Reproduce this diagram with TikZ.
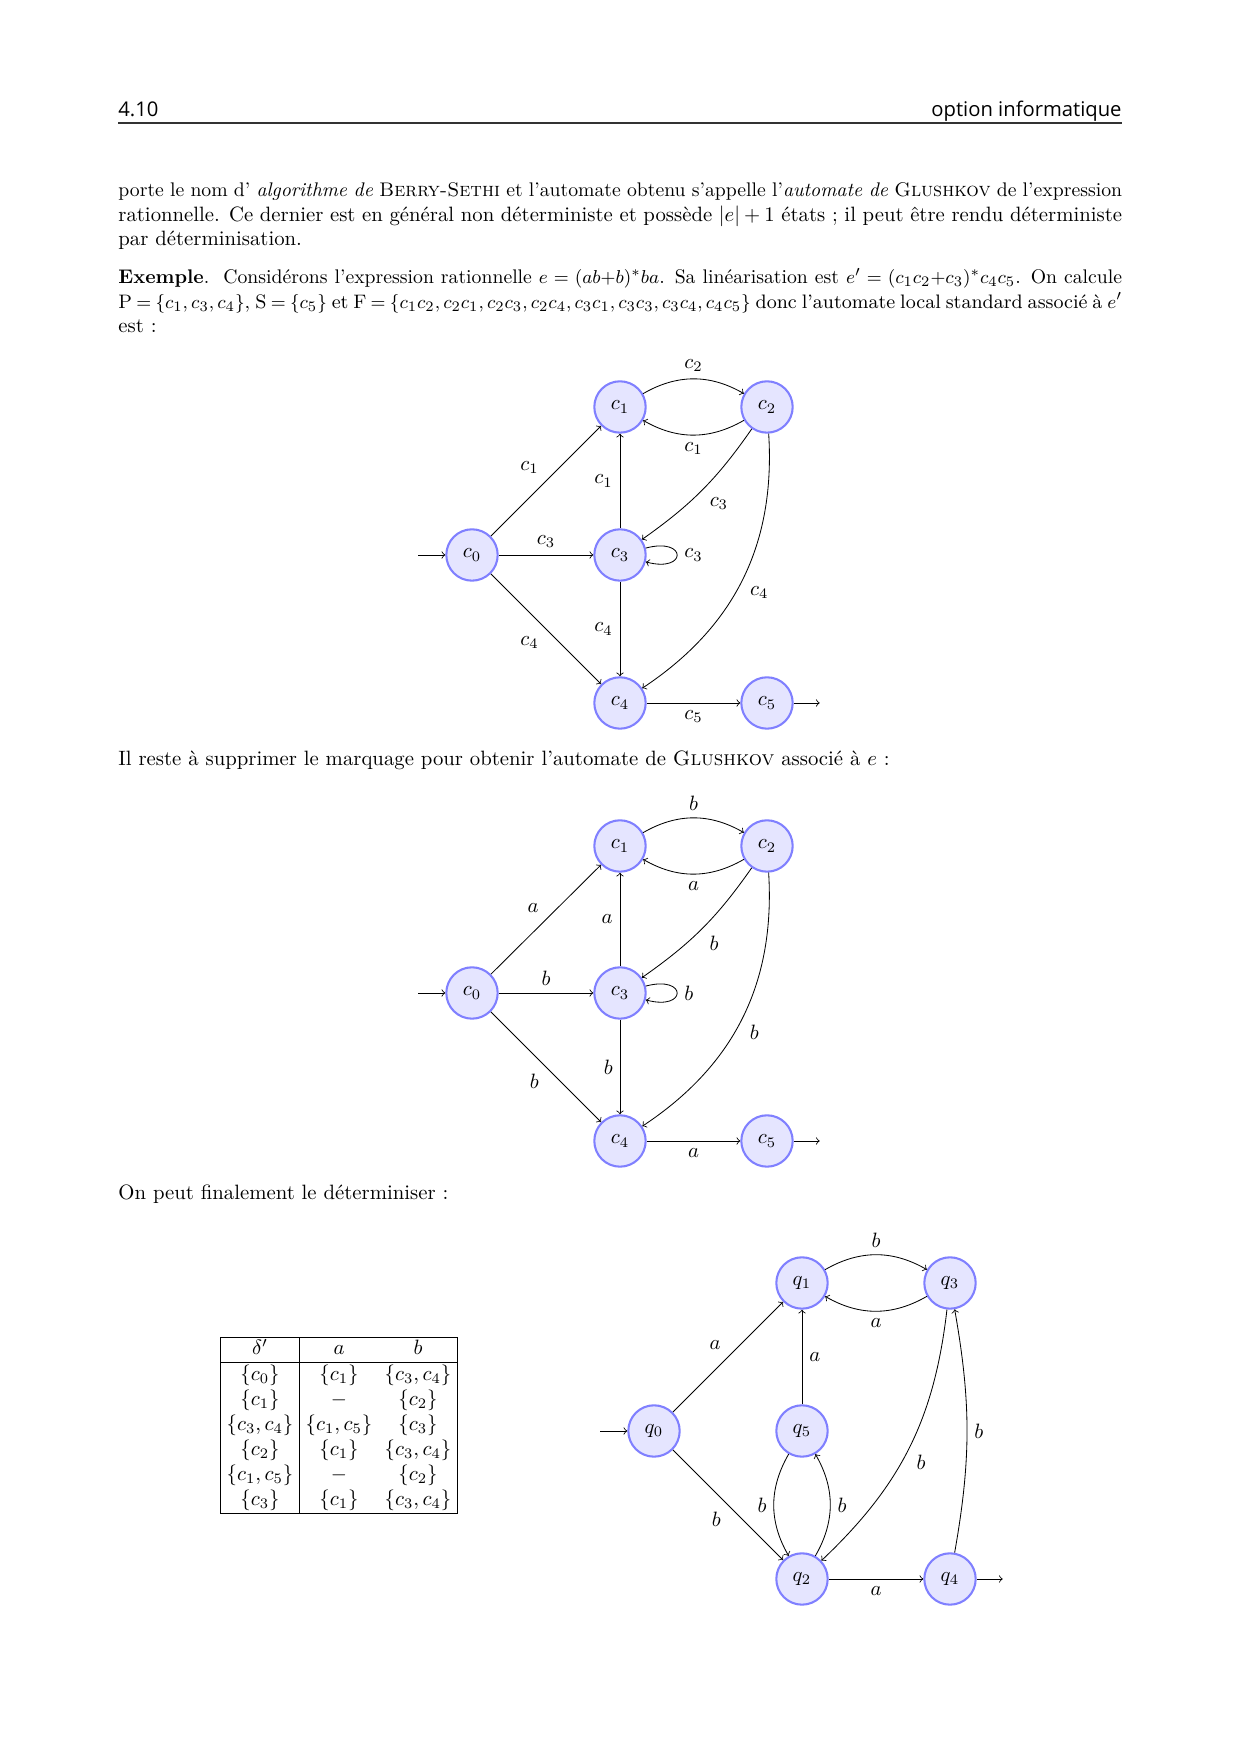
\documentclass[tikz,border=0pt]{standalone}
\usepackage{fontspec}
\newfontfamily\headfont{Open Sans}
\usetikzlibrary{positioning}

\begin{document}
\begin{tikzpicture}[
    x=0.016935cm,
    y=0.016935cm,
    state/.style={draw=blue!50, fill=blue!10, circle, line width=1pt, minimum size=8.7mm, inner sep=0pt},
    arrow/.style={->},
    txt/.style={anchor=base west, inner sep=0pt},
    auto,
    >=to
  ]
    \path[fill=white] (0,0) rectangle (1240,1754);

    % -- en-tete --
    \node[txt, font=\headfont\fontsize{9.75}{12}\selectfont] (num) at (118,1637) {4.10};
    \node[anchor=base east, inner sep=0pt, font=\headfont\fontsize{9.75}{12}\selectfont] (opt) at (1122,1637) {option informatique};
    \draw[line width=0.6pt, black!80] (118,1631) -- (1122,1631);

    % -- texte --
    \node[txt, font=\fontsize{9.5}{12}\selectfont] (l1) at (118,1557) {\makebox[170mm][s]{porte le nom d' \emph{algorithme de} \textsc{Berry-Sethi} et l'automate obtenu s'appelle l'\emph{automate de} \textsc{Glushkov} de l'expression}};
    \node[txt] (l2) at (118,1532.5) {\makebox[170mm][s]{rationnelle. Ce dernier est en général non déterministe et possède $|e|+1$ états~; il peut être rendu déterministe}};
    \node[txt] (l3) at (118,1508) {par déterminisation.};
    \node[txt, font=\fontsize{9.5}{12}\selectfont] (l4) at (118,1470) {\makebox[170mm][s]{\textbf{Exemple}.\ \ Considérons l'expression rationnelle $e=(ab{+}b)^*ba$. Sa linéarisation est $e'=(c_1c_2{+}c_3)^*c_4c_5$. On calcule}};
    \node[txt, font=\fontsize{9.4}{12}\selectfont] (l5) at (118,1445.5) {\thickmuskip=4mu plus 3mu\makebox[170mm][s]{$\mathrm{P}=\{c_1,c_3,c_4\}$, $\mathrm{S}=\{c_5\}$ et $\mathrm{F}=\{c_1c_2,c_2c_1,c_2c_3,c_2c_4,c_3c_1,c_3c_3,c_3c_4,c_4c_5\}$ donc l'automate local standard associé à $e'$}};
    \node[txt] (l6) at (118,1421) {est~:};
    \node[txt] (l7) at (118,988) {Il reste à supprimer le marquage pour obtenir l'automate de \textsc{Glushkov} associé à $e$~:};
    \node[txt] (l8) at (118,554) {On peut finalement le déterminiser~:};

    % -- automate local standard --
    \node[state] (c0) at (472,1199) {$c_0$};
    \node[state] (c1) at (620,1347) {$c_1$};
    \node[state] (c2) at (767,1347) {$c_2$};
    \node[state] (c3) at (620,1199) {$c_3$};
    \node[state] (c4) at (620,1051) {$c_4$};
    \node[state] (c5) at (767,1051) {$c_5$};
    \coordinate[left=4.6mm of c0] (i0);
    \coordinate[right=4.4mm of c5] (f5);

    \draw[arrow] (i0) -- (c0);
    \draw[arrow] (c5) -- (f5);
    \draw[arrow] (c0) to node {$c_1$} (c1);
    \draw[arrow] (c0) to node {$c_3$} (c3);
    \draw[arrow] (c0) to node[swap] {$c_4$} (c4);
    \draw[arrow] (c1) to[bend left] node {$c_2$} (c2);
    \draw[arrow] (c2) to[bend left] node {$c_1$} (c1);
    \draw[arrow] (c2) to[bend left=10] node {$c_3$} (c3);
    \draw[arrow] (c2) to[bend left] node {$c_4$} (c4);
    \draw[arrow] (c3) to node {$c_1$} (c1);
    \draw[arrow] (c3) to[loop right] node {$c_3$} (c3);
    \draw[arrow] (c3) to node[swap] {$c_4$} (c4);
    \draw[arrow] (c4) to node[swap] {$c_5$} (c5);

    % -- automate de Glushkov --
    \node[state] (g0) at (472,761) {$c_0$};
    \node[state] (g1) at (620,908) {$c_1$};
    \node[state] (g2) at (767,908) {$c_2$};
    \node[state] (g3) at (620,761) {$c_3$};
    \node[state] (g4) at (620,613) {$c_4$};
    \node[state] (g5) at (767,613) {$c_5$};
    \coordinate[left=4.6mm of g0] (j0);
    \coordinate[right=4.4mm of g5] (h5);

    \draw[arrow] (j0) -- (g0);
    \draw[arrow] (g5) -- (h5);
    \draw[arrow] (g0) to node {$a$} (g1);
    \draw[arrow] (g0) to node {$b$} (g3);
    \draw[arrow] (g0) to node[swap] {$b$} (g4);
    \draw[arrow] (g1) to[bend left] node {$b$} (g2);
    \draw[arrow] (g2) to[bend left] node {$a$} (g1);
    \draw[arrow] (g2) to[bend left=10] node {$b$} (g3);
    \draw[arrow] (g2) to[bend left] node {$b$} (g4);
    \draw[arrow] (g3) to node {$a$} (g1);
    \draw[arrow] (g3) to[loop right] node {$b$} (g3);
    \draw[arrow] (g3) to node[swap] {$b$} (g4);
    \draw[arrow] (g4) to node[swap] {$a$} (g5);

    % -- table de transition --
    \node (tab) at (339,329) {%
      \setlength{\tabcolsep}{3pt}%
      \begin{tabular}{|c|cc|}
        \hline
        $\delta'$ & $a$ & $b$\\
        \hline
        $\{c_0\}$ & $\{c_1\}$ & $\{c_3,c_4\}$\\
        $\{c_1\}$ & $-$ & $\{c_2\}$\\
        $\{c_3,c_4\}$ & $\{c_1,c_5\}$ & $\{c_3\}$\\
        $\{c_2\}$ & $\{c_1\}$ & $\{c_3,c_4\}$\\
        $\{c_1,c_5\}$ & $-$ & $\{c_2\}$\\
        $\{c_3\}$ & $\{c_1\}$ & $\{c_3,c_4\}$\\
        \hline
      \end{tabular}};

    % -- automate determinise --
    \node[state] (q0) at (654,323) {$q_0$};
    \node[state] (q1) at (802,471) {$q_1$};
    \node[state] (q3) at (950,471) {$q_3$};
    \node[state] (q5) at (802,323) {$q_5$};
    \node[state] (q2) at (802,175) {$q_2$};
    \node[state] (q4) at (950,175) {$q_4$};
    \coordinate[left=4.6mm of q0] (k0);
    \coordinate[right=4.4mm of q4] (k4);

    \draw[arrow] (k0) -- (q0);
    \draw[arrow] (q4) -- (k4);
    \draw[arrow] (q0) to node {$a$} (q1);
    \draw[arrow] (q0) to node[swap] {$b$} (q2);
    \draw[arrow] (q1) to[bend left] node {$b$} (q3);
    \draw[arrow] (q3) to[bend left] node {$a$} (q1);
    \draw[arrow] (q5) to node[swap] {$a$} (q1);
    \draw[arrow] (q5) to[bend right] node[swap] {$b$} (q2);
    \draw[arrow] (q2) to[bend right] node[swap] {$b$} (q5);
    \draw[arrow] (q3) to[bend left=20] node {$b$} (q2);
    \draw[arrow] (q4) to[bend right=10] node[swap] {$b$} (q3);
    \draw[arrow] (q2) to node[swap] {$a$} (q4);
  \end{tikzpicture}
\end{document}
